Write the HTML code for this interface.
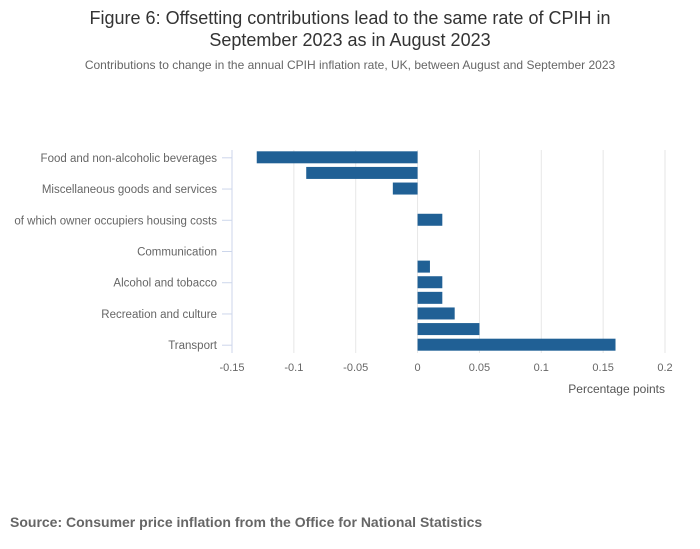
<!DOCTYPE html>
<html><head><meta charset="utf-8">
<style>
body{margin:0;background:#fff;font-family:"Liberation Sans",sans-serif;}
#wrap{position:relative;width:700px;height:549px;overflow:hidden;}
</style></head>
<body><div id="wrap">
<svg id="chart" width="700" height="549">
<text x="350" y="24" text-anchor="middle" font-size="18" fill="#333">Figure 6: Offsetting contributions lead to the same rate of CPIH in</text>
<text x="350" y="46" text-anchor="middle" font-size="18" fill="#333">September 2023 as in August 2023</text>
<text x="350" y="69" text-anchor="middle" font-size="12" fill="#666">Contributions to change in the annual CPIH inflation rate, UK, between August and September 2023</text>
<text x="10" y="527" font-size="14" font-weight="bold" fill="#666">Source: Consumer price inflation from the Office for National Statistics</text>
<text x="665" y="393" text-anchor="end" font-size="12" fill="#555">Percentage points</text>
<g id="grid"></g><g id="bars"></g><g id="axes"></g>
</svg></div>
<script>
const categories=["Food and non-alcoholic beverages","Clothing and footwear","Miscellaneous goods and services","Furniture and household goods","of which owner occupiers housing costs","Education","Communication","Health","Alcohol and tobacco","Restaurants and hotels","Recreation and culture","Housing and household services","Transport"];
const values=[-0.13,-0.09,-0.02,0,0.02,0,0,0.01,0.02,0.02,0.03,0.05,0.16];
const ticks=[-0.15,-0.1,-0.05,0,0.05,0.1,0.15,0.2];
const tickLabels=["-0.15","-0.1","-0.05","0","0.05","0.1","0.15","0.2"];
const NS="http://www.w3.org/2000/svg";
const x0=232,x1=665,dmin=-0.15,dmax=0.2,yTop=150,yBot=353;
const band=(yBot-yTop)/categories.length;
function xs(v){return x0+(v-dmin)/(dmax-dmin)*(x1-x0);}
function yc(i){return yTop+band*(i+0.5);}
function mk(tag,attrs,parent){const e=document.createElementNS(NS,tag);for(const k in attrs)e.setAttribute(k,attrs[k]);document.getElementById(parent).appendChild(e);return e;}
ticks.forEach((t,i)=>{
 const g=mk("line",{x1:xs(t),x2:xs(t),y1:yTop,y2:yBot,stroke:i===0?"#ccd6eb":"#e6e6e6","stroke-width":1},"grid");
 
 
 const l=mk("text",{x:xs(t),y:yBot+18,"text-anchor":"middle","font-size":"11",fill:"#666"},"axes");
 l.textContent=tickLabels[i];
 
 
});
categories.forEach((c,i)=>{
 const v=values[i];
 const r=mk("rect",{x:Math.min(xs(0),xs(v)),y:yc(i)-6.5,width:Math.abs(xs(v)-xs(0)),height:12,fill:"#206095"},"bars");
 
 
 if(i%2===0){
  const tk=mk("line",{x1:x0-10,x2:x0,y1:yc(i),y2:yc(i),stroke:"#ccd6eb"},"axes");
  
  
  const t=mk("text",{x:217,y:yc(i)+4,"text-anchor":"end","font-size":"11.5",fill:"#666"},"axes");
  t.textContent=c;
  
  
 }
});
</script>
</body></html>
